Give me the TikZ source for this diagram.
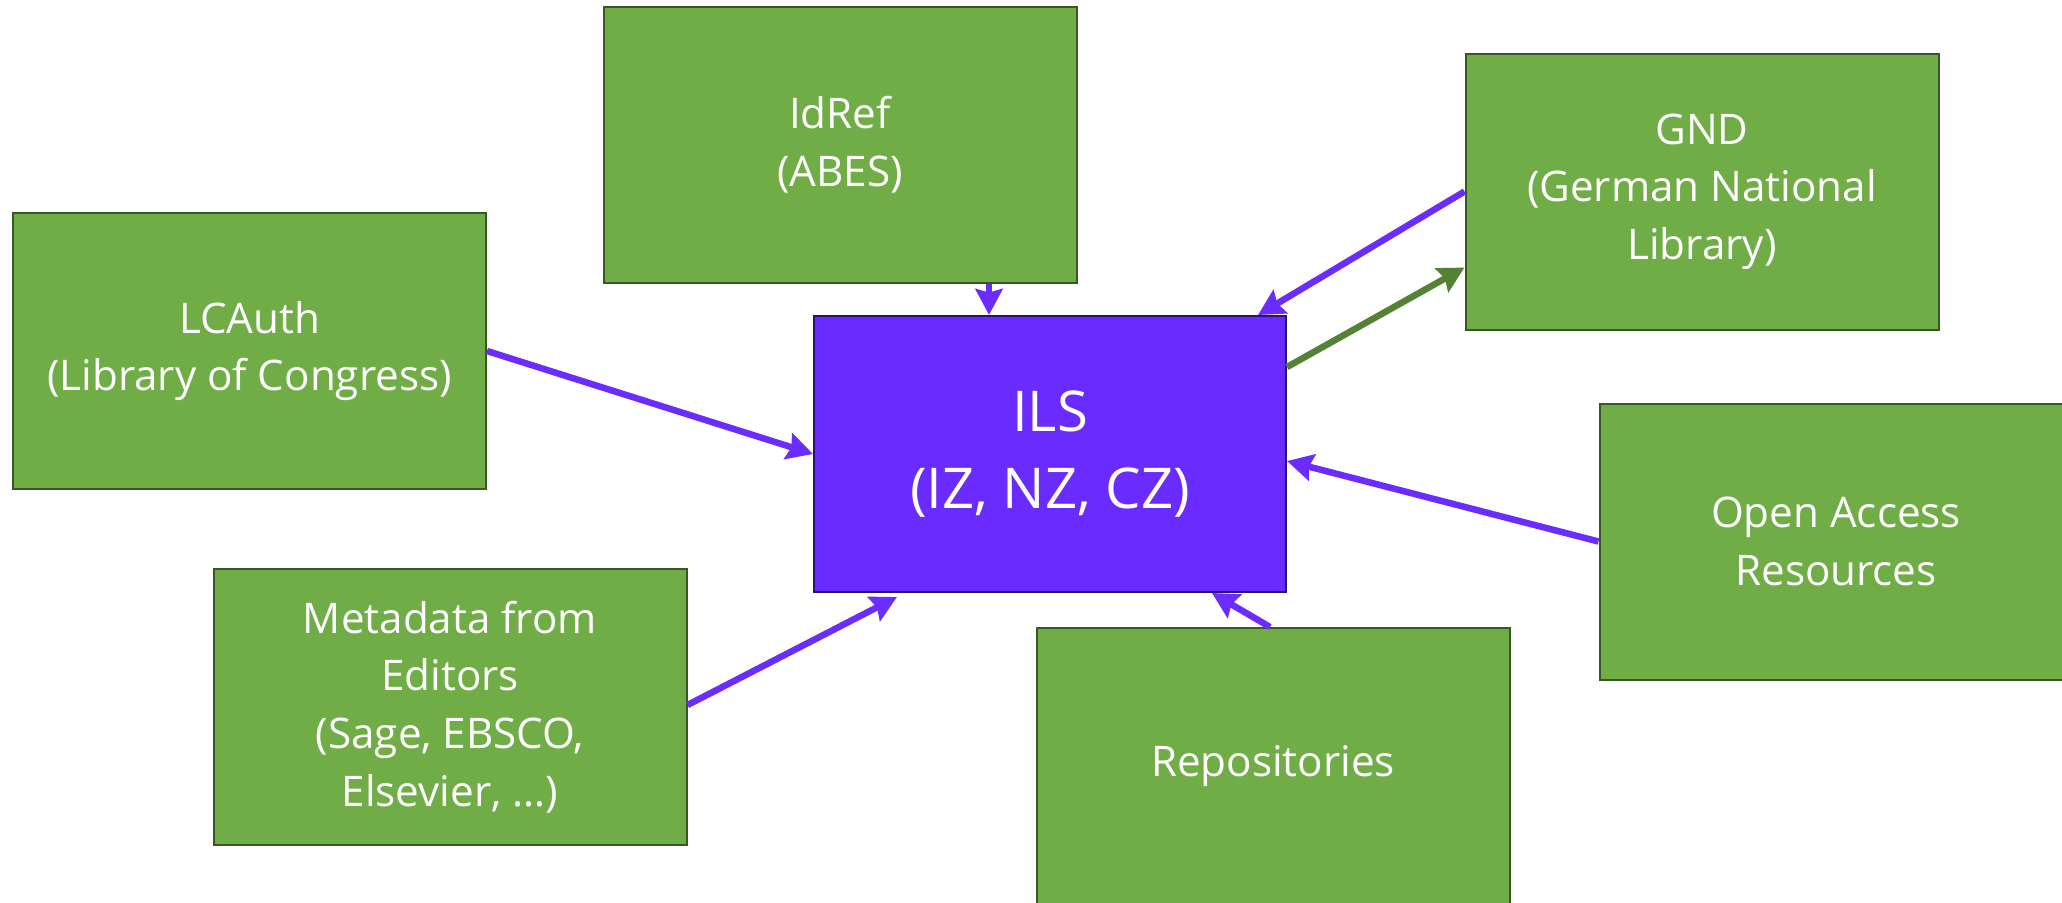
\documentclass[tikz,border=0pt]{standalone}
\usepackage{fontspec}
\setmainfont{Open Sans}
\usetikzlibrary{arrows.meta,calc}
\definecolor{boxgreen}{HTML}{70AD47}
\definecolor{boxgreenborder}{HTML}{385723}
\definecolor{ilspurple}{HTML}{6A2BFF}
\definecolor{ilsborder}{HTML}{2A1370}
\definecolor{arrowpurple}{HTML}{6B2CFF}
\definecolor{arrowgreen}{HTML}{548235}
\tikzset{
  srcbox/.style={draw=boxgreenborder, fill=boxgreen, line width=0.2mm,
    minimum width=47.3mm, minimum height=27.6mm, inner sep=0pt,
    text=white, align=center, font={\fontsize{12}{16.4}\selectfont}},
  ilsbox/.style={draw=ilsborder, fill=ilspurple, line width=0.2mm,
    minimum width=47.2mm, minimum height=27.6mm, inner sep=0pt,
    text=white, align=center, font={\fontsize{16}{21.8}\selectfont}},
  flowp/.style={draw=arrowpurple, line width=0.65mm,
    -{Stealth[length=2.6mm, width=2.7mm, inset=0.35mm]}},
  flowg/.style={draw=arrowgreen, line width=0.65mm,
    -{Stealth[length=2.6mm, width=2.7mm, inset=0.35mm]}}
}
\begin{document}
\begin{tikzpicture}[x=0.1mm, y=-0.1mm]
\useasboundingbox (0,0) rectangle (2062,902);
\clip (0,0) rectangle (2062,902);
\fill[white] (0,0) rectangle (2062,902);

\node[srcbox] (idref) at (840,145) {IdRef\\(ABES)};
\node[srcbox] (lcauth) at (249.5,351) {LCAuth\\(Library of Congress)};
\node[srcbox] (gnd) at (1702,191.5) {GND\\(German National\\Library)};
\node[ilsbox] (ils) at (1050,454) {ILS\\(IZ, NZ, CZ)};
\node[srcbox] (oa) at (1836,541.5) {Open Access\\Resources};
\node[srcbox] (meta) at (450,707) {Metadata from\\Editors\\(Sage, EBSCO,\\Elsevier, \ldots)};
\node[srcbox] (repo) at (1273,766) {Repositories};

\coordinate (idrefout) at ($(ils.north)+(-61,0)$);
\draw[flowp] (idrefout |- idref.south) -- (idrefout);
\draw[flowp] (lcauth.east) -- (ils.west);
\draw[flowp] (gnd.west) -- ($(ils.north east)+(-29,0)$);
\draw[flowg] ($(ils.north east)+(0,52)$) -- ($(gnd.south west)+(0,-63)$);
\draw[flowp] (oa.west) -- ($(ils.east)+(0,7)$);
\draw[flowp] ($(repo.north)+(-3,0)$) -- ($(ils.south east)+(-75,0)$);
\draw[flowp] ($(meta.east)+(0,-2)$) -- ($(ils.south west)+(84,4)$);
\end{tikzpicture}
\end{document}
